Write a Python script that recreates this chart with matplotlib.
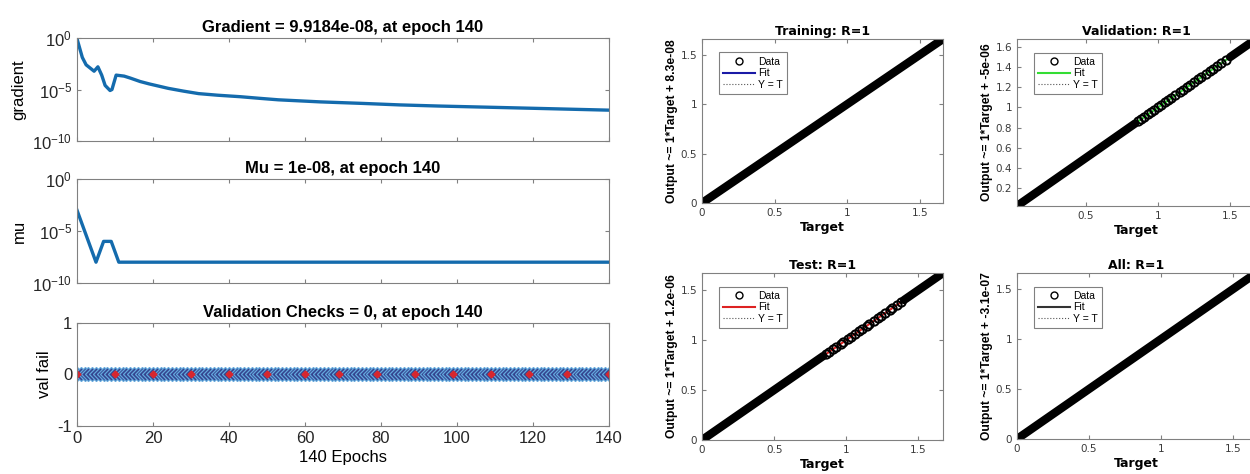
import matplotlib
matplotlib.use("Agg")
from matplotlib import pyplot as plt
from matplotlib.lines import Line2D

plt.rcParams['font.family'] = ['Liberation Sans', 'DejaVu Sans']
plt.rcParams['mathtext.default'] = 'regular'
plt.rcParams['axes.unicode_minus'] = False

# training state
grad_epochs = [0, 1.4, 2.4, 4.5, 5.5, 6.5, 7.4, 8.7, 9.2, 10.3, 12.4, 14, 16.6, 19, 24, 28, 32, 37,
               43, 48, 53, 64, 75, 85, 95, 106, 117, 127, 140]
grad_vals = [0.85, 1.3e-2, 2.5e-3, 6e-4, 1.6e-3, 2.5e-4, 2.5e-5, 8e-6, 1e-5, 2.5e-4, 2e-4, 1.3e-4,
             6e-5, 3.5e-5, 1.3e-5, 7e-6, 4e-6, 2.8e-6, 2e-6, 1.4e-6, 1e-6, 6.3e-7, 4.5e-7, 3.2e-7,
             2.5e-7, 2e-7, 1.6e-7, 1.3e-7, 9.9e-8]
mu_epochs = [0, 5, 7, 9, 11, 140]
mu_vals = [1e-3, 1e-8, 1e-6, 1e-6, 1e-8, 1e-8]
val_epochs = list(range(0, 141))
val_fail = [0] * len(val_epochs)
val_red_epochs = [0, 10, 20, 30, 40, 50, 60, 69, 79, 89, 99, 109, 119, 129, 140]
x_ticks = [0, 20, 40, 60, 80, 100, 120, 140]

# regression panels
reg_titles = ['Training: R=1', 'Validation: R=1', 'Test: R=1', 'All: R=1']
reg_ylabels = ['Output ~= 1*Target + 8.3e-08', 'Output ~= 1*Target + -5e-06',
               'Output ~= 1*Target + 1.2e-06', 'Output ~= 1*Target + -3.1e-07']
fit_colors = ['#1a1aa6', '#33dd33', '#dd2222', '#333333']
dense_ranges = [[(0.0, 1.66)],
                [(0.02, 0.84), (1.5, 1.68)],
                [(0.0, 0.84), (1.4, 1.66)],
                [(0.0, 1.66)]]
sparse_targets = [[],
                  [0.86, 0.88, 0.9, 0.93, 0.95, 0.97, 1.0, 1.02, 1.05, 1.07, 1.09, 1.12, 1.15,
                   1.17, 1.2, 1.22, 1.25, 1.28, 1.3, 1.33, 1.36, 1.38, 1.41, 1.44, 1.47],
                  [0.86, 0.88, 0.91, 0.93, 0.96, 0.98, 1.01, 1.03, 1.06, 1.09, 1.11, 1.14, 1.16,
                   1.19, 1.22, 1.24, 1.27, 1.3, 1.32, 1.35, 1.38],
                  []]
reg_lims = [(0.0, 1.66), (0.02, 1.68), (0.0, 1.67), (0.0, 1.66)]
reg_xticks = [[0, 0.5, 1, 1.5], [0.5, 1, 1.5], [0, 0.5, 1, 1.5], [0, 0.5, 1, 1.5]]
reg_yticks = [[0, 0.5, 1, 1.5], [0.2, 0.4, 0.6, 0.8, 1, 1.2, 1.4, 1.6], [0, 0.5, 1, 1.5], [0, 0.5, 1, 1.5]]

blue = (0.08, 0.42, 0.68)
spine_c = '#808080'

fig = plt.figure(figsize=(12.5, 4.74), dpi=100)

def style(ax, fs, lc):
    ax.tick_params(direction='in', top=True, right=True, colors=spine_c, labelcolor=lc,
                   labelsize=fs, length=3)
    for s in ax.spines.values():
        s.set_color(spine_c)

# left: performance panels
ax1 = fig.add_axes([0.0616, 0.7025, 0.4256, 0.2173])
ax1.semilogy(grad_epochs, grad_vals, color=blue, lw=2.4)
ax1.set_ylim(1e-10, 1)
ax1.set_yticks([1e-10, 1e-5, 1])
ax1.set_yticklabels(['$10^{-10}$', '$10^{-5}$', '$10^{0}$'])
ax1.set_ylabel('gradient', fontsize=12)
ax1.set_title('Gradient = 9.9184e-08, at epoch 140', fontsize=12, fontweight='bold', pad=4)

ax2 = fig.add_axes([0.0616, 0.403, 0.4256, 0.2194])
ax2.semilogy(mu_epochs, mu_vals, color=blue, lw=2.4)
ax2.set_ylim(1e-10, 1)
ax2.set_yticks([1e-10, 1e-5, 1])
ax2.set_yticklabels(['$10^{-10}$', '$10^{-5}$', '$10^{0}$'])
ax2.set_ylabel('mu', fontsize=12)
ax2.set_title('Mu = 1e-08, at epoch 140', fontsize=12, fontweight='bold', pad=4)

ax3 = fig.add_axes([0.0616, 0.1013, 0.4256, 0.2173])
ax3.plot(val_epochs, val_fail, color=blue, lw=1.5, marker='D', ms=7.5,
         mfc='#34448f', mec='#62a8dc', mew=0.9)
ax3.plot(val_red_epochs, [0] * len(val_red_epochs), ls='none', marker='D', ms=3.5,
         color='#d7262e')
ax3.set_ylim(-1, 1)
ax3.set_yticks([-1, 0, 1])
ax3.set_ylabel('val fail', fontsize=12)
ax3.set_xlabel('140 Epochs', fontsize=12, labelpad=3)
ax3.set_title('Validation Checks = 0, at epoch 140', fontsize=12, fontweight='bold', pad=4)

for ax in (ax1, ax2, ax3):
    ax.set_xlim(0, 140)
    ax.set_xticks(x_ticks)
    ax.minorticks_off()
    style(ax, 12, '#262626')
ax1.set_xticklabels([])
ax2.set_xticklabels([])

# right: regression panels
positions = [[0.5616, 0.5717, 0.1928, 0.346],
             [0.8136, 0.5654, 0.1912, 0.3523],
             [0.5616, 0.0717, 0.1928, 0.3523],
             [0.8136, 0.0738, 0.1912, 0.350]]

for i in range(4):
    ax = fig.add_axes(positions[i])
    lo, hi = reg_lims[i]
    ax.plot([lo, hi], [lo, hi], color='#555555', ls=':', lw=0.8)
    ax.plot([lo, hi], [lo, hi], color=fit_colors[i], lw=1.5)
    for a, b in dense_ranges[i]:
        ax.plot([a, b], [a, b], color='black', lw=6, solid_capstyle='round')
    if sparse_targets[i]:
        ax.plot(sparse_targets[i], sparse_targets[i], ls='none', marker='o', ms=6,
                mfc='none', mec='black', mew=1.4)
    ax.set_xlim(lo, hi)
    ax.set_ylim(lo, hi)
    ax.set_xticks(reg_xticks[i])
    ax.set_yticks(reg_yticks[i])
    ax.set_xticklabels([('%g' % t) for t in reg_xticks[i]], family='DejaVu Sans')
    ax.set_yticklabels([('%g' % t) for t in reg_yticks[i]], family='DejaVu Sans')
    style(ax, 7.5, '#3a3a3a')
    ax.set_title(reg_titles[i], fontsize=9, fontweight='bold', family='DejaVu Sans', pad=3)
    ax.set_xlabel('Target', fontsize=9, fontweight='bold', family='DejaVu Sans', labelpad=2)
    ax.set_ylabel(reg_ylabels[i], fontsize=8.7, fontweight='bold', labelpad=2)
    handles = [Line2D([], [], ls='none', marker='o', mfc='none', mec='black', ms=5),
               Line2D([], [], color=fit_colors[i], lw=1.5),
               Line2D([], [], color='#555555', ls=':', lw=0.8)]
    leg = ax.legend(handles, ['Data', 'Fit', 'Y = T'], loc='upper left', fontsize=7.5,
                    fancybox=False, framealpha=1, edgecolor='#808080', handlelength=3,
                    borderpad=0.4, labelspacing=0.15, handletextpad=0.3,
                    bbox_to_anchor=(0.05, 0.95))
    leg.get_frame().set_linewidth(0.8)

fig.savefig('out.png', dpi=100)
